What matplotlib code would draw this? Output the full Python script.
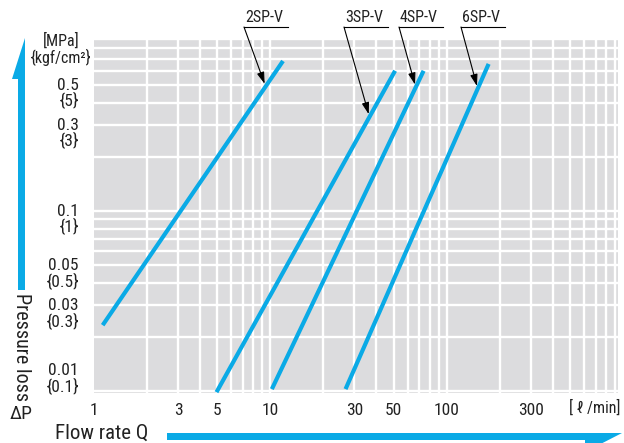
import matplotlib
matplotlib.use('Agg')
import matplotlib.pyplot as plt
from matplotlib import font_manager
import numpy as np
from matplotlib.lines import Line2D
from matplotlib.patches import Polygon
from matplotlib.ticker import LogLocator, NullFormatter, FixedLocator

names = {f.name for f in font_manager.fontManager.ttflist}
narrow = [n for n in ['Liberation Sans Narrow', 'Roboto Condensed', 'Open Sans Condensed',
                      'Noto Sans Condensed', 'DejaVu Sans Condensed'] if n in names]
plt.rcParams['font.family'] = narrow[:1] + ['Liberation Sans', 'DejaVu Sans']

W, H = 624, 443
BLUE = '#0aaae6'
GREY = '#dcdcde'
INK = '#222222'

# pressure loss characteristics, flow rate [l/min] vs pressure loss [MPa]
models = ['2SP-V', '3SP-V', '4SP-V', '6SP-V']
flow = {
    '2SP-V': [1.12, 11.8],
    '3SP-V': [4.95, 51.0],
    '4SP-V': [10.2, 74.0],
    '6SP-V': [26.7, 173.0],
}
dp = {
    '2SP-V': [0.0233, 0.68],
    '3SP-V': [0.0099, 0.60],
    '4SP-V': [0.0103, 0.60],
    '6SP-V': [0.0103, 0.655],
}
# flow rate where each leader arrow meets its curve
arrow_q = {'2SP-V': 9.4, '3SP-V': 36.5, '4SP-V': 66.8, '6SP-V': 150.0}

x_ticks = [1, 3, 5, 10, 30, 50, 100, 300]
y_ticks = [0.5, 0.3, 0.1, 0.05, 0.03, 0.01]
y_mpa = ['0.5', '0.3', '0.1', '0.05', '0.03', '0.01']
y_kgf = ['{5}', '{3}', '{1}', '{0.5}', '{0.3}', '{0.1}']

fs_tick = 12.5 if narrow else 10.5
fs_label = 11.5 if narrow else 10
fs_title = 15 if narrow else 13


def px(x, y):
    # figure fraction from pixel position measured from the top-left corner
    return x / W, (H - y) / H


fig = plt.figure(figsize=(W / 100, H / 100), dpi=100)
ax = fig.add_axes([94 / W, (H - 393) / H, 524 / W, 355 / H])
ax.set_facecolor(GREY)
ax.set_xscale('log')
ax.set_yscale('log')
ax.set_xlim(1, 937)
ax.set_ylim(0.0098, 0.912)

ax.xaxis.set_major_locator(FixedLocator(x_ticks))
ax.xaxis.set_minor_locator(LogLocator(base=10, subs=np.arange(2, 10)))
ax.yaxis.set_major_locator(FixedLocator([]))
ax.yaxis.set_minor_locator(LogLocator(base=10, subs=np.arange(1, 10)))
ax.xaxis.set_minor_formatter(NullFormatter())
ax.yaxis.set_minor_formatter(NullFormatter())
ax.set_xticklabels([str(v) for v in x_ticks])
ax.tick_params(which='both', length=0, labelsize=fs_tick, colors=INK, pad=7)
ax.grid(which='minor', color='white', linewidth=1.7)
ax.grid(which='major', axis='x', color='white', linewidth=1.7)
ax.get_xgridlines()[0].set_visible(False)
ax.set_axisbelow(True)
for s in ax.spines.values():
    s.set_visible(False)

ax.text(0.955, -0.042, '[ ℓ /min]', transform=ax.transAxes, ha='center', va='center',
        fontsize=fs_label, color=INK)

# two-line pressure labels: MPa on the grid line, kgf/cm2 below it
for v, a, b in zip(y_ticks, y_mpa, y_kgf):
    lift = 21 if v == 0.01 else 0
    ax.annotate(a, xy=(0, v), xycoords=('axes fraction', 'data'),
                xytext=(-11, lift * 0.72), textcoords='offset points',
                ha='right', va='center', fontsize=fs_tick, color=INK)
    ax.annotate(b, xy=(0, v), xycoords=('axes fraction', 'data'),
                xytext=(-11, (lift - 15) * 0.72), textcoords='offset points',
                ha='right', va='center', fontsize=fs_tick, color=INK)

fig.text(*px(61, 41), '[MPa]', ha='center', va='center', fontsize=fs_label, color=INK)
fig.text(*px(61, 57), '{kgf/cm²}', ha='center', va='center', fontsize=fs_label, color=INK)

for m in models:
    ax.plot(flow[m], dp[m], color=BLUE, linewidth=3, solid_capstyle='butt', clip_on=False)

# model labels with underline and leader arrow
label_x = {'2SP-V': 244, '3SP-V': 344, '4SP-V': 399, '6SP-V': 461}
for m in models:
    x0 = label_x[m]
    fig.add_artist(Line2D([x0 / W, (x0 + 44) / W], [(H - 27) / H] * 2,
                          transform=fig.transFigure, color='black', linewidth=0.8))
    fig.text(*px(x0 + 20, 17), m, ha='center', va='center', fontsize=fs_label, color=INK)
    lq = np.log10(flow[m])
    ld = np.log10(dp[m])
    q = arrow_q[m]
    d = 10 ** np.interp(np.log10(q), lq, ld)
    ax.annotate('', xy=(q, d), xycoords='data',
                xytext=px(x0, 27), textcoords='figure fraction',
                arrowprops=dict(arrowstyle='-|>,head_length=0.7,head_width=0.22',
                                color='black', linewidth=0.8, shrinkA=0, shrinkB=2))

# axis arrows
up = Polygon([px(25, 38), px(12, 79), px(18, 79), px(18, 290), px(25, 290)],
             closed=True, transform=fig.transFigure, color=BLUE, linewidth=0)
right = Polygon([px(167, 433), px(622, 433), px(585, 452), px(585, 440), px(167, 440)],
                closed=True, transform=fig.transFigure, color=BLUE, linewidth=0)
fig.add_artist(up)
fig.add_artist(right)

fig.text(*px(21, 347), 'Pressure loss', rotation=-90, ha='center', va='center',
         fontsize=fs_title - 0.5, color=INK)
fig.text(*px(21, 414), 'ΔP', ha='center', va='center', fontsize=fs_title - 1, color=INK)
fig.text(*px(102, 433), 'Flow rate Q', ha='center', va='center', fontsize=fs_title, color=INK)

fig.savefig('out.png', dpi=100)
